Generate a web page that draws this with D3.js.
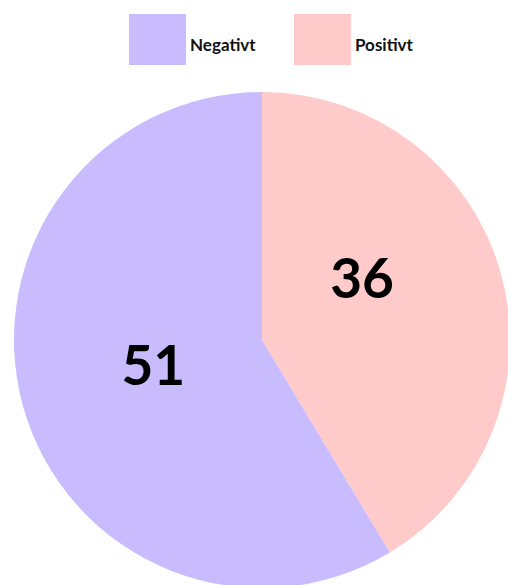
<!DOCTYPE html>
<html>
<head>
<meta charset="utf-8">
<script src="https://cdn.jsdelivr.net/npm/d3@7"></script>
<style>
  html, body { margin: 0; padding: 0; background: #fff; }
  svg { display: block; }
</style>
</head>
<body>
<svg id="chart" width="508" height="585"></svg>
<script>
const categories = ["Positivt", "Negativt"];
const values = [36, 51];
const colors = ["#ffcaca", "#c8bcff"];
const legendOrder = ["Negativt", "Positivt"];

const W = 508, H = 585;
const cx = 262, cy = 340, R = 248;
const svg = d3.select("#chart");

const color = d3.scaleOrdinal().domain(categories).range(colors);

const data = categories.map((c, i) => ({ name: c, value: values[i] }));
const pie = d3.pie().value(d => d.value).sort(null);
const arcs = pie(data);
const arc = d3.arc().innerRadius(0).outerRadius(R);

const g = svg.append("g").attr("transform", `translate(${cx},${cy})`);
g.selectAll("path").data(arcs).enter().append("path")
  .attr("d", arc)
  .attr("fill", d => color(d.data.name));

// label placement: polar position (angle shift in radians, radius fraction)
const labelLayout = { "Positivt": { da: -0.285, rf: 0.475 }, "Negativt": { da: 0.04, rf: 0.45 } };
g.selectAll("text.lbl").data(arcs).enter().append("text")
  .attr("class", "lbl")
  .attr("transform", d => {
    const L = labelLayout[d.data.name];
    const a = (d.startAngle + d.endAngle) / 2 + L.da;
    const r = R * L.rf;
    return `translate(${r * Math.sin(a)},${-r * Math.cos(a)})`;
  })
  .attr("text-anchor", "middle")
  .attr("dy", "0.36em")
  .style("font-family", "Lato, 'Open Sans', sans-serif")
  .style("font-weight", "bold")
  .style("font-size", "55px")
  .attr("fill", "#000")
  .text(d => d.value);

// legend
const legendX = d3.scalePoint().domain(legendOrder).range([129, 294]);
const lg = svg.selectAll("g.leg").data(legendOrder).enter().append("g")
  .attr("class", "leg")
  .attr("transform", d => `translate(${legendX(d)},14)`);
lg.append("rect").attr("width", 57).attr("height", 51).attr("fill", d => color(d));
lg.append("text")
  .attr("x", 61).attr("y", 37)
  .style("font-family", "Lato, 'Open Sans', sans-serif")
  .style("font-weight", "bold")
  .style("font-size", "17px")
  .attr("fill", "#111")
  .text(d => d);
</script>
</body>
</html>
